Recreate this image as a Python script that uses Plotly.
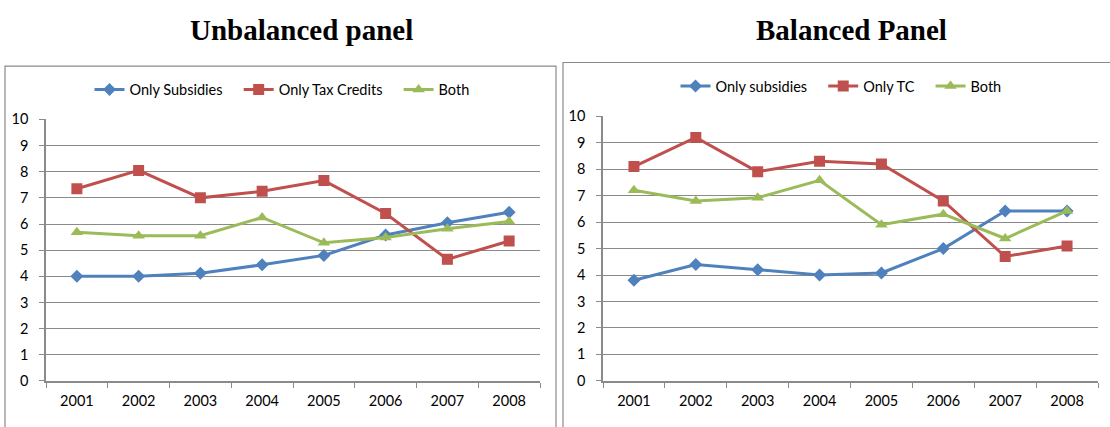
import plotly.graph_objects as go

years = ["2001", "2002", "2003", "2004", "2005", "2006", "2007", "2008"]

# Unbalanced panel
unb_subsidies = [4.0, 4.0, 4.12, 4.44, 4.8, 5.58, 6.05, 6.45]
unb_tax_credits = [7.35, 8.05, 7.0, 7.25, 7.66, 6.4, 4.65, 5.35]
unb_both = [5.68, 5.55, 5.55, 6.25, 5.28, 5.48, 5.82, 6.1]

# Balanced panel
bal_subsidies = [3.8, 4.4, 4.2, 4.0, 4.08, 5.0, 6.42, 6.42]
bal_tc = [8.1, 9.2, 7.9, 8.3, 8.2, 6.8, 4.7, 5.1]
bal_both = [7.2, 6.8, 6.92, 7.58, 5.9, 6.3, 5.38, 6.42]

titles = ["Unbalanced panel", "Balanced Panel"]
y_ticks = list(range(0, 11))

BLUE = "#4F81BD"
RED = "#C0504D"
GREEN = "#9BBB59"
GRID = "#8a8a8a"
FONT = "Lato"
GAP = "\u00a0" * 3  # extra spacing between legend entries

W, H = 1110, 427


def px(x):
    return x / W


def py(y):
    return (H - y) / H


fig = go.Figure()

series = [
    (unb_subsidies, "Only Subsidies", GAP, BLUE, "diamond", 10, "x", "y", "legend"),
    (unb_tax_credits, "Only Tax Credits", GAP, RED, "square", 11, "x", "y", "legend"),
    (unb_both, "Both", "", GREEN, "triangle-up", 11, "x", "y", "legend"),
    (bal_subsidies, "Only subsidies", GAP, BLUE, "diamond", 10, "x2", "y2", "legend2"),
    (bal_tc, "Only TC", GAP, RED, "square", 11, "x2", "y2", "legend2"),
    (bal_both, "Both", "", GREEN, "triangle-up", 11, "x2", "y2", "legend2"),
]
for vals, name, pad, color, sym, size, xa, ya, lg in series:
    fig.add_trace(go.Scatter(
        x=years, y=vals, name=name + pad, mode="lines+markers",
        line=dict(color=color, width=3),
        marker=dict(symbol=sym, size=size, color=color),
        xaxis=xa, yaxis=ya, legend=lg,
    ))

xaxis_common = dict(
    type="category", range=[-0.5, 7.5], showgrid=False, zeroline=False,
    showline=True, linecolor=GRID, linewidth=1.5,
    ticks="outside", tickson="boundaries", ticklen=5, tickcolor=GRID,
    tickfont=dict(family=FONT, size=14.5, color="#000000"),
    ticklabelstandoff=6, fixedrange=True,
)
yaxis_common = dict(
    range=[0, 10], tickvals=y_ticks, showgrid=True, gridcolor=GRID, gridwidth=1,
    zeroline=False, showline=True, linecolor=GRID, linewidth=1.5,
    ticks="outside", ticklen=5, tickcolor=GRID,
    tickfont=dict(family=FONT, size=14.5, color="#000000"),
    ticklabelstandoff=8, fixedrange=True,
)

fig.update_layout(
    width=W, height=H,
    margin=dict(l=0, r=0, t=0, b=0),
    paper_bgcolor="white", plot_bgcolor="white",
    xaxis=dict(xaxis_common, domain=[px(46), px(540)], anchor="y"),
    yaxis=dict(yaxis_common, domain=[py(387.3), py(115)], anchor="x"),
    xaxis2=dict(xaxis_common, domain=[px(603), px(1098)], anchor="y2"),
    yaxis2=dict(yaxis_common, domain=[py(387.3), py(111.7)], anchor="x2"),
    legend=dict(orientation="h", x=px(282), xanchor="center", y=py(84), yanchor="middle",
                font=dict(family=FONT, size=14.5, color="#000000"), bgcolor="rgba(0,0,0,0)"),
    legend2=dict(orientation="h", x=px(841), xanchor="center", y=py(80.3), yanchor="middle",
                 font=dict(family=FONT, size=14.5, color="#000000"), bgcolor="rgba(0,0,0,0)"),
    shapes=[
        dict(type="rect", xref="paper", yref="paper", x0=px(5), x1=px(556), y0=-0.1, y1=py(59.5),
             line=dict(color="#8a8a8a", width=1.2), fillcolor="rgba(0,0,0,0)", layer="below"),
        dict(type="rect", xref="paper", yref="paper", x0=px(563), x1=px(1120), y0=-0.1, y1=py(55.7),
             line=dict(color="#8a8a8a", width=1.2), fillcolor="rgba(0,0,0,0)", layer="below"),
    ],
    annotations=[
        dict(text="<b>%s</b>" % titles[0], xref="paper", yref="paper", x=px(301), y=py(22),
             xanchor="center", yanchor="middle", showarrow=False,
             font=dict(family="Liberation Serif", size=29, color="#000000")),
        dict(text="<b>%s</b>" % titles[1], xref="paper", yref="paper", x=px(851), y=py(22),
             xanchor="center", yanchor="middle", showarrow=False,
             font=dict(family="Liberation Serif", size=29, color="#000000")),
    ],
)

fig.write_html("out.html")
